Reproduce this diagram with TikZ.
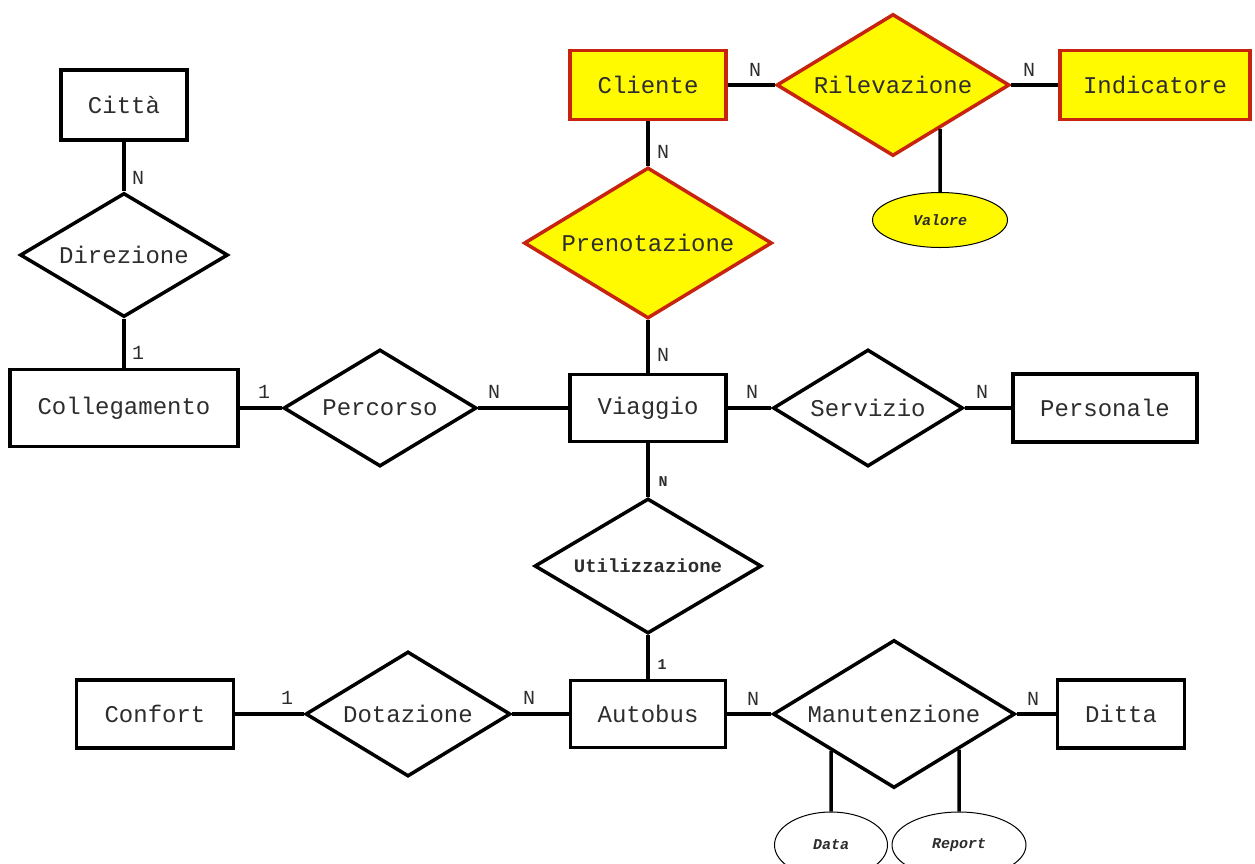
\documentclass[tikz,border=0pt]{standalone}
\usepackage{fontspec}
\setmainfont{Liberation Mono}
\usetikzlibrary{shapes.geometric}
\definecolor{erfill}{RGB}{255,250,0}
\definecolor{erborder}{RGB}{200,35,15}
\definecolor{ertext}{RGB}{45,45,45}
\tikzset{
  entity/.style={draw, rectangle, line width=3.5pt, fill=white, inner sep=0pt, text=ertext, font=\fontsize{24}{28}\selectfont},
  relation/.style={draw, diamond, aspect=2, line width=3.5pt, fill=white, inner sep=0pt, text=ertext, font=\fontsize{24}{28}\selectfont},
  attrib/.style={draw, ellipse, line width=1pt, fill=white, inner sep=0pt, text=ertext, font=\fontsize{15}{18}\selectfont\bfseries\itshape},
  card/.style={inner sep=0pt, text=ertext, font=\fontsize{20}{24}\selectfont},
  yellowed/.style={fill=erfill, draw=erborder},
  link/.style={line width=3.5pt},
}

\begin{document}
\begin{tikzpicture}[x=1pt,y=-1pt]
\useasboundingbox (0,0) rectangle (1255,863);

\node[entity, minimum width=126pt, minimum height=70pt] (citta) at (124,105) {Città};
\node[relation, minimum width=208pt, minimum height=124pt] (direzione) at (124,255) {Direzione};
\node[entity, minimum width=228pt, minimum height=77pt] (collegamento) at (124,408) {Collegamento};
\node[relation, minimum width=193pt, minimum height=117pt] (percorso) at (380,408) {Percorso};
\node[entity, minimum width=156pt, minimum height=67pt] (viaggio) at (648,408) {Viaggio};
\node[relation, minimum width=190pt, minimum height=117pt] (servizio) at (868,408) {Servizio};
\node[entity, minimum width=184pt, minimum height=68pt] (personale) at (1105,408) {Personale};

\node[entity, yellowed, minimum width=156pt, minimum height=69pt] (cliente) at (648,85) {Cliente};
\node[relation, yellowed, minimum width=233pt, minimum height=142pt] (rilevazione) at (893,85) {Rilevazione};
\node[entity, yellowed, minimum width=190pt, minimum height=69pt] (indicatore) at (1155,85) {Indicatore};
\node[attrib, fill=erfill, minimum width=135pt, minimum height=55pt] (valore) at (940,220) {Valore};
\node[relation, yellowed, minimum width=248pt, minimum height=151pt] (prenotazione) at (648,243) {Prenotazione};

\node[relation, minimum width=227pt, minimum height=135pt, font=\fontsize{19}{22}\selectfont\bfseries] (utilizzazione) at (648,566) {Utilizzazione};

\node[entity, minimum width=157pt, minimum height=68pt] (confort) at (155,714) {Confort};
\node[relation, minimum width=205pt, minimum height=125pt] (dotazione) at (408,714) {Dotazione};
\node[entity, minimum width=155pt, minimum height=67pt] (autobus) at (648,714) {Autobus};
\node[relation, minimum width=242pt, minimum height=148pt] (manutenzione) at (894,714) {Manutenzione};
\node[entity, minimum width=127pt, minimum height=68pt] (ditta) at (1121,714) {Ditta};
\node[attrib, minimum width=113pt, minimum height=66pt] (data) at (831,845) {Data};
\node[attrib, minimum width=134pt, minimum height=66pt] (report) at (959,845) {Report};

\draw[link] (citta) -- (direzione);
\draw[link] (direzione) -- (collegamento);
\draw[link] (collegamento) -- (percorso);
\draw[link] (percorso) -- (viaggio);
\draw[link] (viaggio) -- (servizio);
\draw[link] (servizio) -- (personale);
\draw[link] (cliente) -- (rilevazione);
\draw[link] (rilevazione) -- (indicatore);
\draw[link] (cliente) -- (prenotazione);
\draw[link] (prenotazione) -- (viaggio);
\draw[link] (viaggio) -- (utilizzazione);
\draw[link] (utilizzazione) -- (autobus);
\draw[link] (confort) -- (dotazione);
\draw[link] (dotazione) -- (autobus);
\draw[link] (autobus) -- (manutenzione);
\draw[link] (manutenzione) -- (ditta);
\draw[link] (valore.north) -- (intersection of rilevazione.south--rilevazione.east and valore.north--valore.south);
\draw[link] (data.north) -- (intersection of manutenzione.south--manutenzione.west and data.north--data.south);
\draw[link] (report.north) -- (intersection of manutenzione.south--manutenzione.east and report.north--report.south);

\node[card] (cardCittaN) at (138,178) {N};
\node[card] (cardCollegamento1) at (138,353) {1};
\node[card] (cardPercorso1) at (264,392) {1};
\node[card] (cardPercorsoN) at (494,392) {N};
\node[card] (cardServizioN) at (752,392) {N};
\node[card] (cardPersonaleN) at (982,392) {N};
\node[card] (cardClienteN) at (755,70) {N};
\node[card] (cardIndicatoreN) at (1029,70) {N};
\node[card] (cardPrenotazioneN) at (663,152) {N};
\node[card] (cardViaggioN) at (663,355) {N};
\node[card, font=\fontsize{15}{18}\selectfont\bfseries] (cardUtilizzazioneN) at (663,482) {N};
\node[card, font=\fontsize{15}{18}\selectfont\bfseries] (cardAutobus1) at (662,665) {1};
\node[card] (cardConfort1) at (287,698) {1};
\node[card] (cardDotazioneN) at (529,698) {N};
\node[card] (cardManutenzioneN) at (753,699) {N};
\node[card] (cardDittaN) at (1033,699) {N};
\end{tikzpicture}
\end{document}
